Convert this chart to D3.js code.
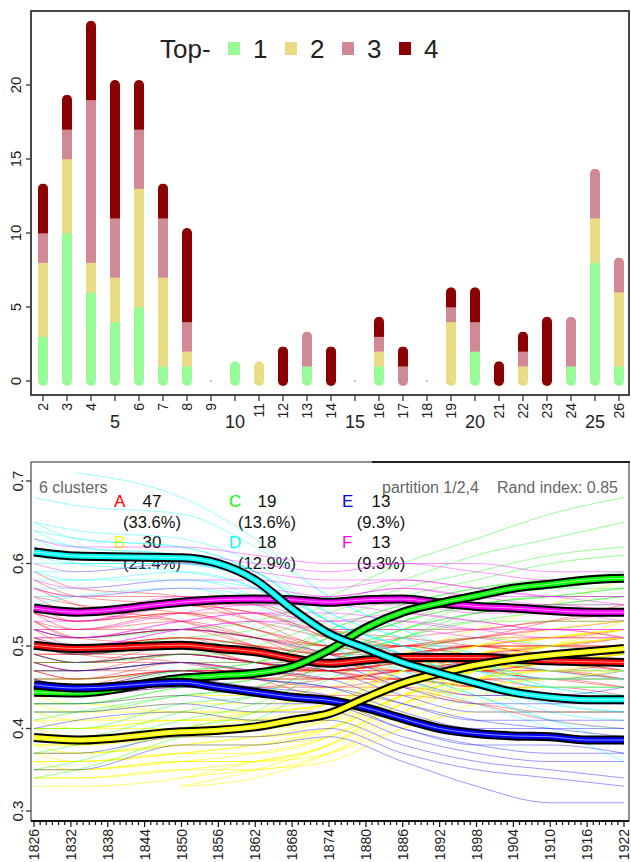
<!DOCTYPE html>
<html><head><meta charset="utf-8">
<script src="https://cdn.jsdelivr.net/npm/d3@7/dist/d3.min.js"></script>
<style>body{margin:0;background:#fff} svg{display:block;font-family:"Liberation Sans",Arial,sans-serif}</style>
</head><body><svg id="c" width="631" height="862"></svg>
<script>
// ---------- TOP PANEL DATA ----------
const barCategories = d3.range(2, 27);
const top1 = [3,10,6,4,5,1,1,0,1,0,0,1,0,0,1,0,0,0,2,0,0,0,1,8,1];
const top2 = [5,5,2,3,8,6,1,0,0,1,0,0,0,0,1,0,0,4,0,0,1,0,0,3,5];
const top3 = [2,2,11,4,4,4,2,0,0,0,0,2,0,0,1,1,0,1,2,0,1,0,3,3,2];
const top4 = [3,2,5,9,3,2,6,0,0,0,2,0,2,0,1,1,0,1,2,1,1,4,0,0,0];
const topLabels = ["1","2","3","4"];
const topColors = ["#98fb98","#eadb85","#d08a93","#8b0000"];
const barYTicks = [0,5,10,15,20];

// ---------- BOTTOM PANEL DATA ----------
const years = [1826,1833,1850,1862,1874,1886,1898,1910,1922];
const meanYears = [1826,1833,1850,1856,1862,1868,1874,1880,1886,1892,1898,1904,1910,1916,1922];
const yearTicks = d3.range(1826, 1923, 6);
const lineYTicks = [0.3,0.4,0.5,0.6,0.7];
const clusterNames = ["A","B","C","D","E","F"];
const clusterColors = ["#ff0000","#ffff00","#00ff00","#00ffff","#0000ff","#ff00ff"];
const clusterCounts = [47,30,19,18,13,13];
const clusterPct = ["(33.6%)","(21.4%)","(13.6%)","(12.9%)","(9.3%)","(9.3%)"];

const meanA = [0.501,0.497,0.501,0.497,0.493,0.485,0.479,0.483,0.486,0.486,0.486,0.484,0.482,0.481,0.480];
const meanB = [0.389,0.386,0.396,0.398,0.402,0.410,0.418,0.437,0.455,0.467,0.477,0.484,0.489,0.493,0.497];
const meanC = [0.444,0.443,0.461,0.464,0.467,0.475,0.495,0.522,0.541,0.552,0.561,0.570,0.575,0.580,0.582];
const meanD = [0.614,0.609,0.607,0.600,0.580,0.545,0.515,0.497,0.480,0.467,0.455,0.444,0.438,0.435,0.435];
const meanE = [0.453,0.449,0.456,0.450,0.444,0.438,0.434,0.425,0.412,0.400,0.394,0.391,0.390,0.386,0.386];
const meanF = [0.546,0.541,0.553,0.556,0.557,0.556,0.553,0.556,0.557,0.552,0.548,0.546,0.543,0.541,0.541];

// individual trajectories (hundredths), one string per trajectory at `years`
const trajA = ["59 57 56 53 50 50 49 49 50","58 56 55 54 51 49 50 51 52","57 56 56 55 52 51 50 49 48","56 55 54 52 50 49 50 50 49",
"56 54 55 53 51 50 51 52 53","55 53 54 52 49 48 47 47 46","55 54 53 51 50 51 52 53 54","54 52 53 51 48 49 48 48 47",
"54 53 54 52 50 50 49 50 51","53 52 52 51 49 48 49 48 48","53 51 52 50 48 49 50 49 50","52 51 52 51 49 49 48 47 46",
"52 50 51 50 49 50 51 52 51","51 50 51 49 48 47 46 46 45","51 51 52 51 50 49 49 49 49","51 49 50 48 47 48 49 50 50",
"50 50 51 50 48 48 47 47 48","50 49 50 49 48 49 50 50 51","50 49 49 48 46 46 45 44 44","50 50 50 50 49 50 50 49 49",
"49 48 49 48 47 48 49 48 47","49 49 50 49 48 47 48 49 50","49 48 48 47 46 47 47 46 46","49 49 51 50 49 50 51 51 52",
"48 48 49 48 47 46 46 45 45","48 47 48 47 47 48 49 49 48","48 48 50 49 48 48 47 48 49","48 47 47 47 46 47 48 48 47",
"47 47 48 47 47 49 50 51 51","47 46 47 46 45 45 44 44 43","47 47 49 48 47 48 48 47 47","47 46 47 47 47 48 49 50 51",
"46 46 47 46 46 47 48 48 48","46 46 48 48 48 49 49 49 48","46 45 46 45 45 46 46 46 47","45 45 47 47 48 49 50 50 50",
"45 45 46 46 47 47 47 46 46","45 44 45 45 46 47 48 49 49","44 44 46 46 46 46 45 45 44","44 45 47 47 47 48 48 47 46",
"54 53 55 55 52 50 51 53 55","57 55 53 50 47 46 45 44 44","52 52 54 54 51 49 47 46 45","53 51 50 48 47 47 47 48 49",
"50 49 48 46 44 44 43 42 42","55 54 55 54 52 52 52 53 53","48 48 49 48 47 45 43 41 40"];
const trajB = ["44 43 44 44 45 48 50 51 52","43 43 42 42 43 47 50 52 53","43 42 43 43 44 47 49 50 50","42 42 42 42 43 46 48 49 50",
"42 41 42 41 42 45 47 48 49","41 41 41 42 43 47 50 51 52","41 40 41 41 42 45 47 48 48","40 40 40 40 42 46 49 50 51",
"40 40 41 41 41 44 46 47 47","40 39 40 41 43 47 49 51 52","39 39 40 40 41 45 48 50 51","39 38 39 39 40 44 46 47 48",
"39 39 39 40 42 46 48 49 49","38 38 39 40 42 46 48 49 50","38 37 38 39 41 45 47 48 48","37 37 38 39 40 44 47 48 49",
"37 37 38 38 40 45 48 50 51","37 36 37 38 39 43 45 46 46","36 36 37 37 39 44 47 49 50","36 36 37 38 40 44 46 47 47",
"35 35 36 36 38 42 45 46 47","35 35 36 37 39 43 45 45 45","34 34 35 36 38 43 46 48 49","34 34 35 35 37 41 44 45 45",
"33 33 34 36 38 44 48 50 52","- - 33 34 37 42 46 48 49","- - 34 35 36 40 43 44 44","- - 33 35 38 43 47 50 53",
"38 38 40 42 44 49 52 55 58","36 35 36 36 37 40 42 42 42"];
const trajC = ["52 51 52 53 56 60 63 66 68","51 50 51 52 55 58 61 63 65","50 49 50 51 54 57 59 61 62","49 48 49 50 53 56 58 60 61",
"48 48 49 49 52 55 57 58 59","47 47 48 48 52 55 57 58 58","46 46 47 48 51 54 56 57 58","45 45 47 48 51 54 56 57 57",
"45 44 46 47 51 54 56 57 58","44 44 46 47 50 53 55 56 57","43 43 45 46 50 53 55 56 56","43 43 45 46 50 53 56 57 58",
"42 42 44 45 49 52 54 55 55","41 42 44 45 49 52 55 56 57","40 40 43 44 48 51 53 54 54","39 39 42 44 48 52 54 55 56",
"37 38 41 43 47 51 54 55 56","35 36 40 42 48 51 53 53 53","34 35 39 41 46 49 51 50 49"];
const trajD = ["- 71 68 63 56 52 48 45 44","68 67 66 62 56 52 49 47 46","65 64 63 60 54 51 48 45 44","65 63 62 59 53 50 47 45 45",
"64 63 62 59 53 49 46 44 43","64 62 61 58 52 49 46 43 42","63 62 61 59 53 50 48 46 46","63 61 60 58 52 48 45 42 41",
"62 61 61 59 54 51 49 47 47","62 60 59 57 51 48 45 43 42","61 60 60 58 52 49 46 44 44","60 60 60 58 53 50 48 46 46",
"59 58 59 57 51 47 44 41 40","59 59 60 58 53 50 47 45 45","58 58 58 56 50 47 44 41 38","57 57 58 57 52 49 47 46 47",
"56 56 57 55 50 46 43 40 36","55 56 57 56 51 48 46 44 43"];
const trajE = ["52 51 52 51 49 46 44 44 45","50 49 50 49 48 45 43 43 43","49 48 49 48 47 44 42 42 42","48 47 48 47 46 43 41 41 41",
"47 47 48 46 45 42 40 40 40","46 45 47 46 45 43 41 40 39","45 45 46 45 44 41 39 39 39","44 44 45 44 43 40 38 38 37",
"43 43 44 43 43 40 38 37 37","42 42 43 42 42 39 37 36 36","40 41 42 41 41 38 36 35 34","37 37 39 39 40 37 35 34 33",
"35 35 38 38 39 36 33 31 31"];
const trajF = ["63 62 62 61 60 60 59 58 58","62 61 61 60 59 60 60 59 59","60 59 60 59 58 58 57 56 56","58 57 58 58 57 58 57 56 55",
"57 56 57 57 56 57 56 56 56","55 54 56 56 56 57 56 55 55","54 53 55 56 55 56 55 55 54","53 53 55 55 55 55 54 54 53",
"52 52 54 55 55 54 53 52 52","52 51 53 54 54 53 52 52 51","51 51 53 54 53 53 52 51 51","51 50 52 53 53 54 53 52 52",
"50 50 52 53 52 52 51 50 50"];

// ---------- DRAW ----------
const svg = d3.select("#c");
const frameCol = "#333";

// TOP PANEL
const bx = d3.scaleLinear().domain([2, 26]).range([43, 619]);
const by = d3.scaleLinear().domain([0, 20]).range([381, 85]);
const tp = svg.append("g");
tp.append("rect").attr("x", 31).attr("y", 11).attr("width", 598).attr("height", 384)
  .attr("fill", "none").attr("stroke", frameCol).attr("stroke-width", 1.8);

const series = [top1, top2, top3, top4];
const defs = svg.append("defs");
const bw = 10, cap = 5;
barCategories.forEach((c, i) => {
  const vals = series.map(s => s[i]);
  const total = d3.sum(vals);
  const x = bx(c);
  if (total === 0) {
    tp.append("circle").attr("cx", x).attr("cy", by(0)).attr("r", 0.9).attr("fill", "#aaa");
    return;
  }
  const id = "clip" + c;
  defs.append("clipPath").attr("id", id).append("rect")
    .attr("x", x - bw / 2).attr("y", by(total) - cap).attr("width", bw)
    .attr("height", by(0) - by(total) + 2 * cap).attr("rx", cap).attr("ry", cap);
  const g = tp.append("g").attr("clip-path", `url(#${id})`);
  let acc = 0;
  vals.forEach((v, k) => {
    if (v === 0) return;
    const y0 = by(acc) + (acc === 0 ? cap : 0);
    const y1 = by(acc + v) - (acc + v === total ? cap : 0);
    g.append("rect").attr("x", x - bw / 2 - 1).attr("width", bw + 2)
      .attr("y", y1).attr("height", y0 - y1 + 0.3).attr("fill", topColors[k]);
    acc += v;
  });
});

// top y axis
barYTicks.forEach(t => {
  tp.append("line").attr("x1", 26).attr("x2", 31).attr("y1", by(t)).attr("y2", by(t)).attr("stroke", frameCol).attr("stroke-width", 1.3);
  tp.append("text").attr("transform", `translate(21,${by(t)}) rotate(-90)`).attr("text-anchor", "middle")
    .attr("font-size", 15).attr("fill", "#222").text(t);
});
// top x axis
barCategories.forEach(c => {
  const x = bx(c);
  tp.append("line").attr("x1", x).attr("x2", x).attr("y1", 395).attr("y2", 401).attr("stroke", frameCol).attr("stroke-width", 1.3);
  if (c % 5 === 0) {
    tp.append("text").attr("x", x).attr("y", 428).attr("text-anchor", "middle").attr("font-size", 18).attr("fill", "#222").text(c);
  } else {
    tp.append("text").attr("transform", `translate(${x},403) rotate(-90)`).attr("text-anchor", "end")
      .attr("dy", "0.36em").attr("font-size", 14).attr("fill", "#222").text(c);
  }
});
// legend
tp.append("text").attr("x", 160).attr("y", 58).attr("font-size", 26).attr("fill", "#222").text("Top-");
topLabels.forEach((l, k) => {
  const sx = 228 + k * 57;
  tp.append("rect").attr("x", sx).attr("y", 42).attr("width", 12).attr("height", 13).attr("fill", topColors[k]);
  tp.append("text").attr("x", sx + 25).attr("y", 58).attr("font-size", 26).attr("fill", "#222").text(l);
});

// BOTTOM PANEL
const lx = d3.scaleLinear().domain([1826, 1922]).range([34, 624]);
const ly = d3.scaleLinear().domain([0.3, 0.7]).range([811, 481]);
const bp = svg.append("g");
defs.append("clipPath").attr("id", "plotclip").append("rect").attr("x", 31).attr("y", 462).attr("width", 598).attr("height", 359);

// texts first (lines drawn over them)
bp.append("text").attr("x", 39).attr("y", 493).attr("font-size", 16).attr("fill", "#666").text("6 clusters");
bp.append("text").attr("x", 382).attr("y", 493).attr("font-size", 16).attr("fill", "#666").text("partition 1/2,4");
bp.append("text").attr("x", 497).attr("y", 493).attr("font-size", 16).attr("fill", "#666").text("Rand index: 0.85");
const colL = [114, 229, 342], colC = [152, 267, 381];
clusterNames.forEach((n, k) => {
  const col = Math.floor(k / 2), row = k % 2;
  const yb = 507 + row * 41;
  bp.append("text").attr("x", colL[col]).attr("y", yb).attr("font-size", 17).attr("fill", clusterColors[k]).text(n);
  bp.append("text").attr("x", colC[col]).attr("y", yb).attr("text-anchor", "middle").attr("font-size", 17).attr("fill", "#111").text(clusterCounts[k]);
  bp.append("text").attr("x", colC[col]).attr("y", yb + 21).attr("text-anchor", "middle").attr("font-size", 16.5).attr("fill", "#111").text(clusterPct[k]);
});

const parse = s => s.split(" ").map(v => v === "-" ? null : +v / 100);
const thinLine = d3.line().defined(d => d[1] !== null).x(d => lx(d[0])).y(d => ly(d[1])).curve(d3.curveMonotoneX);
const lg = bp.append("g").attr("clip-path", "url(#plotclip)");
[trajA, trajB, trajC, trajD, trajE, trajF].forEach((tr, k) => {
  tr.forEach(s => {
    const vals = parse(s);
    lg.append("path").datum(years.map((yr, j) => [yr, vals[j]])).attr("d", thinLine)
      .attr("fill", "none").attr("stroke", clusterColors[k]).attr("stroke-opacity", k === 1 ? 0.6 : 0.4).attr("stroke-width", 1);
  });
});
const means = [meanA, meanB, meanC, meanD, meanE, meanF];
const meanLine = d3.line().x(d => lx(d[0])).y(d => ly(d[1])).curve(d3.curveMonotoneX);
[5, 0, 2, 4, 1, 3].forEach(k => {
  const data = meanYears.map((yr, j) => [yr, means[k][j]]);
  lg.append("path").datum(data).attr("d", meanLine).attr("fill", "none").attr("stroke", "#000").attr("stroke-width", 9);
  lg.append("path").datum(data).attr("d", meanLine).attr("fill", "none").attr("stroke", clusterColors[k]).attr("stroke-width", 5);
  lg.append("path").datum(data).attr("d", meanLine).attr("fill", "none").attr("stroke", "#fff").attr("stroke-opacity", 0.55).attr("stroke-width", 1);
});

// frame
bp.append("rect").attr("x", 31).attr("y", 462).attr("width", 598).attr("height", 359)
  .attr("fill", "none").attr("stroke", "#555").attr("stroke-width", 1.3);
bp.append("line").attr("x1", 372).attr("x2", 630).attr("y1", 462).attr("y2", 462).attr("stroke", "#222").attr("stroke-width", 2);
bp.append("line").attr("x1", 31).attr("x2", 629).attr("y1", 821).attr("y2", 821).attr("stroke", "#111").attr("stroke-width", 2);

// y axis
lineYTicks.forEach(t => {
  bp.append("line").attr("x1", 26).attr("x2", 31).attr("y1", ly(t)).attr("y2", ly(t)).attr("stroke", frameCol).attr("stroke-width", 1.3);
  bp.append("text").attr("transform", `translate(23,${ly(t)}) rotate(-90)`).attr("text-anchor", "middle")
    .attr("font-size", 15).attr("fill", "#222").text(t.toFixed(1));
});
// x axis: minor yearly ticks + labelled ticks
d3.range(1826, 1923).forEach(yr => {
  const major = yearTicks.includes(yr);
  bp.append("line").attr("x1", lx(yr)).attr("x2", lx(yr)).attr("y1", 821).attr("y2", major ? 827 : 825)
    .attr("stroke", "#111").attr("stroke-width", 1.2);
});
yearTicks.forEach(yr => {
  bp.append("text").attr("transform", `translate(${lx(yr)},829) rotate(-90)`).attr("text-anchor", "end")
    .attr("dy", "0.36em").attr("font-size", 14).attr("fill", "#222").text(yr);
});
</script></body></html>
